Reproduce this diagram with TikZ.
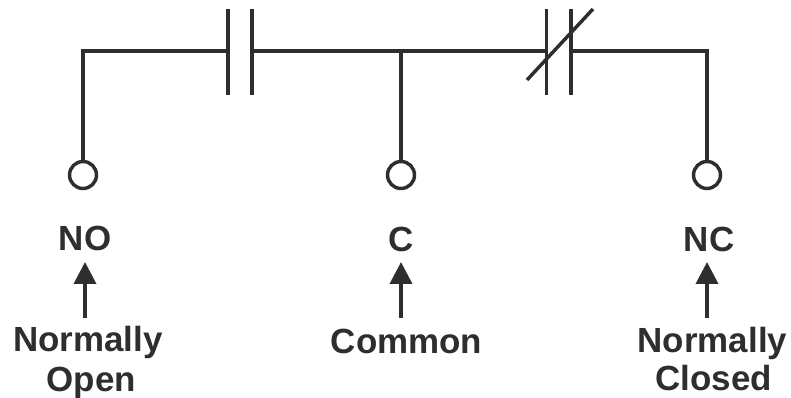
\documentclass[tikz,border=0pt]{standalone}
\usepackage{fontspec}
\setmainfont{Liberation Sans}
\usetikzlibrary{arrows.meta}
\definecolor{ink}{HTML}{2E2E2E}
\tikzset{x=0.75pt,y=-0.75pt,
 wire/.style={draw=ink,line width=2.6pt},
 term/.style={circle,draw=ink,line width=2.6pt,fill=white,minimum size=27*0.75pt,inner sep=0pt},
 lab/.style={font=\bfseries\fontsize{26.2}{29.5}\selectfont,text=ink,align=center,inner sep=0pt},
 point/.style={draw=ink,line width=2.8pt,-{Triangle[length=16.5pt,width=16.5pt]}}}
\begin{document}
\begin{tikzpicture}
\useasboundingbox (0,0) rectangle (791,398);
\coordinate (cornerL) at (83,51);
\coordinate (cornerR) at (707,51);
\coordinate (p1) at (228,51);
\coordinate (p2) at (252,51);
\coordinate (p3) at (546.5,51);
\coordinate (p4) at (571,51);
\coordinate (tee) at (401,51);
\node[term] (no) at (83,175) {};
\node[term] (c) at (401,175) {};
\node[term] (nc) at (707,175) {};
\draw[wire] (no) -- (cornerL) -- (p1);
\draw[wire] (p2) -- (p3);
\draw[wire] (p4) -- (cornerR) -- (nc);
\draw[wire] (tee) -- (c);
\coordinate (a1) at (228,9); \coordinate (a2) at (228,95);
\coordinate (b1) at (252,9); \coordinate (b2) at (252,95);
\coordinate (c1) at (546.5,9); \coordinate (c2) at (546.5,95);
\coordinate (d1) at (571,9); \coordinate (d2) at (571,95);
\coordinate (s1) at (527,80); \coordinate (s2) at (593,9);
\draw[wire] (a1) -- (a2);
\draw[wire] (b1) -- (b2);
\draw[wire] (c1) -- (c2);
\draw[wire] (d1) -- (d2);
\draw[wire] (s1) -- (s2);
\node[lab] (tno) at (85,238) {NO};
\node[lab] (tc) at (401,239) {C};
\node[lab] (tnc) at (709,239) {NC};
\node[lab] (lno) at (88,362.5) {Normally\\[1.2pt]\hspace*{5pt}Open};
\node[lab] (lc) at (406.5,341) {Common};
\node[lab] (lnc) at (712.5,359) {Normally\\[-0.6pt]\hspace*{2pt}Closed};
\coordinate (n1) at (85,318); \coordinate (n2) at (85,262);
\coordinate (m1) at (401,318); \coordinate (m2) at (401,262);
\coordinate (k1) at (707,318); \coordinate (k2) at (707,262);
\draw[point] (n1) -- (n2);
\draw[point] (m1) -- (m2);
\draw[point] (k1) -- (k2);
\end{tikzpicture}
\end{document}
